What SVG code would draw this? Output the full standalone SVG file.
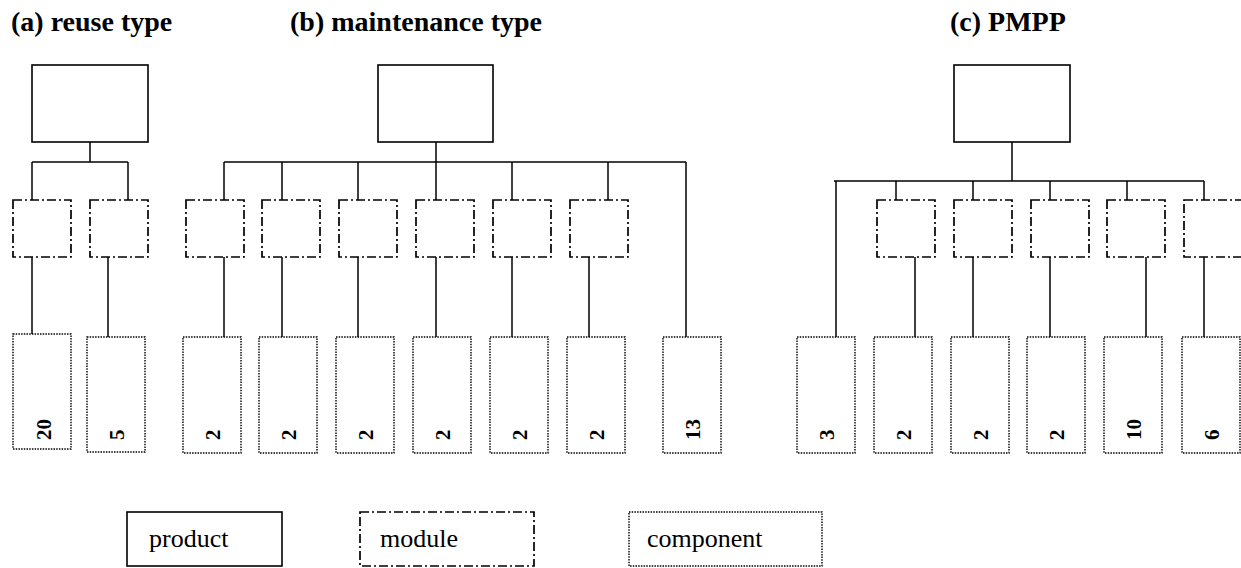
<svg xmlns="http://www.w3.org/2000/svg" width="1241" height="568" viewBox="0 0 1241 568">
<style>
.title{font-family:"Liberation Serif","Times New Roman",serif;font-weight:bold;font-size:28px;fill:#000}
.leg{font-family:"Liberation Serif","Times New Roman",serif;font-size:26px;fill:#000}
.num{font-family:"Liberation Serif","Times New Roman",serif;font-weight:bold;font-size:21px;fill:#000}
.product{fill:#fff;stroke:#000;stroke-width:1.6}
.module{fill:#fff;stroke:#000;stroke-width:1.7;stroke-dasharray:9,3,2,3}
.component{fill:#fff;stroke:#000;stroke-width:1.4;stroke-dasharray:1.5,1.2}
.conn line{stroke:#000;stroke-width:1.5}
</style>
<rect width="1241" height="568" fill="#fff"/>
<text class="title" x="11" y="31">(a) reuse type</text>
<text class="title" x="290" y="31">(b) maintenance type</text>
<text class="title" x="950" y="31">(c) PMPP</text>

<g id="connectors" class="conn">
<!-- (a) -->
<line x1="90" y1="142" x2="90" y2="162"/>
<line x1="32" y1="162" x2="128" y2="162"/>
<line x1="32" y1="162" x2="32" y2="200"/>
<line x1="128" y1="162" x2="128" y2="200"/>
<line x1="32" y1="257" x2="32" y2="334"/>
<line x1="108" y1="257" x2="108" y2="337"/>
<!-- (b) -->
<line x1="436" y1="142" x2="436" y2="162"/>
<line x1="224" y1="162" x2="686" y2="162"/>
<line x1="224" y1="162" x2="224" y2="200"/>
<line x1="282" y1="162" x2="282" y2="200"/>
<line x1="358" y1="162" x2="358" y2="200"/>
<line x1="436" y1="162" x2="436" y2="200"/>
<line x1="512" y1="162" x2="512" y2="200"/>
<line x1="608" y1="162" x2="608" y2="200"/>
<line x1="686" y1="162" x2="686" y2="337"/>
<line x1="224" y1="257" x2="224" y2="337"/>
<line x1="282" y1="257" x2="282" y2="337"/>
<line x1="358" y1="257" x2="358" y2="337"/>
<line x1="436" y1="257" x2="436" y2="337"/>
<line x1="512" y1="257" x2="512" y2="337"/>
<line x1="589" y1="257" x2="589" y2="337"/>
<!-- (c) -->
<line x1="1012" y1="142" x2="1012" y2="181"/>
<line x1="834" y1="181" x2="1204" y2="181"/>
<line x1="836" y1="181" x2="836" y2="337"/>
<line x1="896" y1="181" x2="896" y2="200"/>
<line x1="973" y1="181" x2="973" y2="200"/>
<line x1="1050" y1="181" x2="1050" y2="200"/>
<line x1="1127" y1="181" x2="1127" y2="200"/>
<line x1="1204" y1="181" x2="1204" y2="200"/>
<line x1="915" y1="257" x2="915" y2="337"/>
<line x1="973" y1="257" x2="973" y2="337"/>
<line x1="1050" y1="257" x2="1050" y2="337"/>
<line x1="1146" y1="257" x2="1146" y2="337"/>
<line x1="1204" y1="257" x2="1204" y2="337"/>
</g>

<!-- products -->
<g id="prod-a"><rect class="product" x="32" y="65" width="116" height="77"/></g>
<g id="prod-b"><rect class="product" x="378" y="65" width="115" height="77"/></g>
<g id="prod-c"><rect class="product" x="954" y="65" width="116" height="77"/></g>

<!-- modules -->
<g id="mod-a1"><rect class="module" x="13" y="200" width="58" height="57"/></g>
<g id="mod-a2"><rect class="module" x="90" y="200" width="58" height="57"/></g>
<g id="mod-b1"><rect class="module" x="186" y="200" width="58" height="57"/></g>
<g id="mod-b2"><rect class="module" x="262" y="200" width="58" height="57"/></g>
<g id="mod-b3"><rect class="module" x="339" y="200" width="58" height="57"/></g>
<g id="mod-b4"><rect class="module" x="416" y="200" width="58" height="57"/></g>
<g id="mod-b5"><rect class="module" x="493" y="200" width="58" height="57"/></g>
<g id="mod-b6"><rect class="module" x="570" y="200" width="58" height="57"/></g>
<g id="mod-c1"><rect class="module" x="877" y="200" width="58" height="57"/></g>
<g id="mod-c2"><rect class="module" x="954" y="200" width="58" height="57"/></g>
<g id="mod-c3"><rect class="module" x="1031" y="200" width="58" height="57"/></g>
<g id="mod-c4"><rect class="module" x="1107" y="200" width="58" height="57"/></g>
<g id="mod-c5"><rect class="module" x="1184" y="200" width="60" height="57"/></g>

<!-- components -->
<g id="comp-a1"><rect class="component" x="13" y="334" width="58" height="115"/><text class="num" transform="translate(51,440) rotate(-90)">20</text></g>
<g id="comp-a2"><rect class="component" x="87" y="337" width="58" height="115"/><text class="num" transform="translate(124,440) rotate(-90)">5</text></g>
<g id="comp-b1"><rect class="component" x="183" y="337" width="58" height="116"/><text class="num" transform="translate(220,440) rotate(-90)">2</text></g>
<g id="comp-b2"><rect class="component" x="259" y="337" width="58" height="116"/><text class="num" transform="translate(296,440) rotate(-90)">2</text></g>
<g id="comp-b3"><rect class="component" x="336" y="337" width="58" height="116"/><text class="num" transform="translate(373,440) rotate(-90)">2</text></g>
<g id="comp-b4"><rect class="component" x="413" y="337" width="58" height="116"/><text class="num" transform="translate(450,440) rotate(-90)">2</text></g>
<g id="comp-b5"><rect class="component" x="490" y="337" width="58" height="116"/><text class="num" transform="translate(527,440) rotate(-90)">2</text></g>
<g id="comp-b6"><rect class="component" x="567" y="337" width="58" height="116"/><text class="num" transform="translate(604,440) rotate(-90)">2</text></g>
<g id="comp-b7"><rect class="component" x="663" y="337" width="58" height="116"/><text class="num" transform="translate(700,440) rotate(-90)">13</text></g>
<g id="comp-c1"><rect class="component" x="797" y="337" width="58" height="116"/><text class="num" transform="translate(834,440) rotate(-90)">3</text></g>
<g id="comp-c2"><rect class="component" x="874" y="337" width="58" height="116"/><text class="num" transform="translate(911,440) rotate(-90)">2</text></g>
<g id="comp-c3"><rect class="component" x="951" y="337" width="58" height="116"/><text class="num" transform="translate(988,440) rotate(-90)">2</text></g>
<g id="comp-c4"><rect class="component" x="1027" y="337" width="58" height="116"/><text class="num" transform="translate(1064,440) rotate(-90)">2</text></g>
<g id="comp-c5"><rect class="component" x="1104" y="337" width="58" height="116"/><text class="num" transform="translate(1141,440) rotate(-90)">10</text></g>
<g id="comp-c6"><rect class="component" x="1182" y="337" width="58" height="116"/><text class="num" transform="translate(1219,440) rotate(-90)">6</text></g>

<!-- legend -->
<g id="legend-product"><rect class="product" x="127" y="512" width="155" height="54"/><text class="leg" x="149" y="547">product</text></g>
<g id="legend-module"><rect class="module" x="360" y="512" width="174" height="54"/><text class="leg" x="380" y="547">module</text></g>
<g id="legend-component"><rect class="component" x="629" y="512" width="193" height="54"/><text class="leg" x="647" y="547">component</text></g>
</svg>
